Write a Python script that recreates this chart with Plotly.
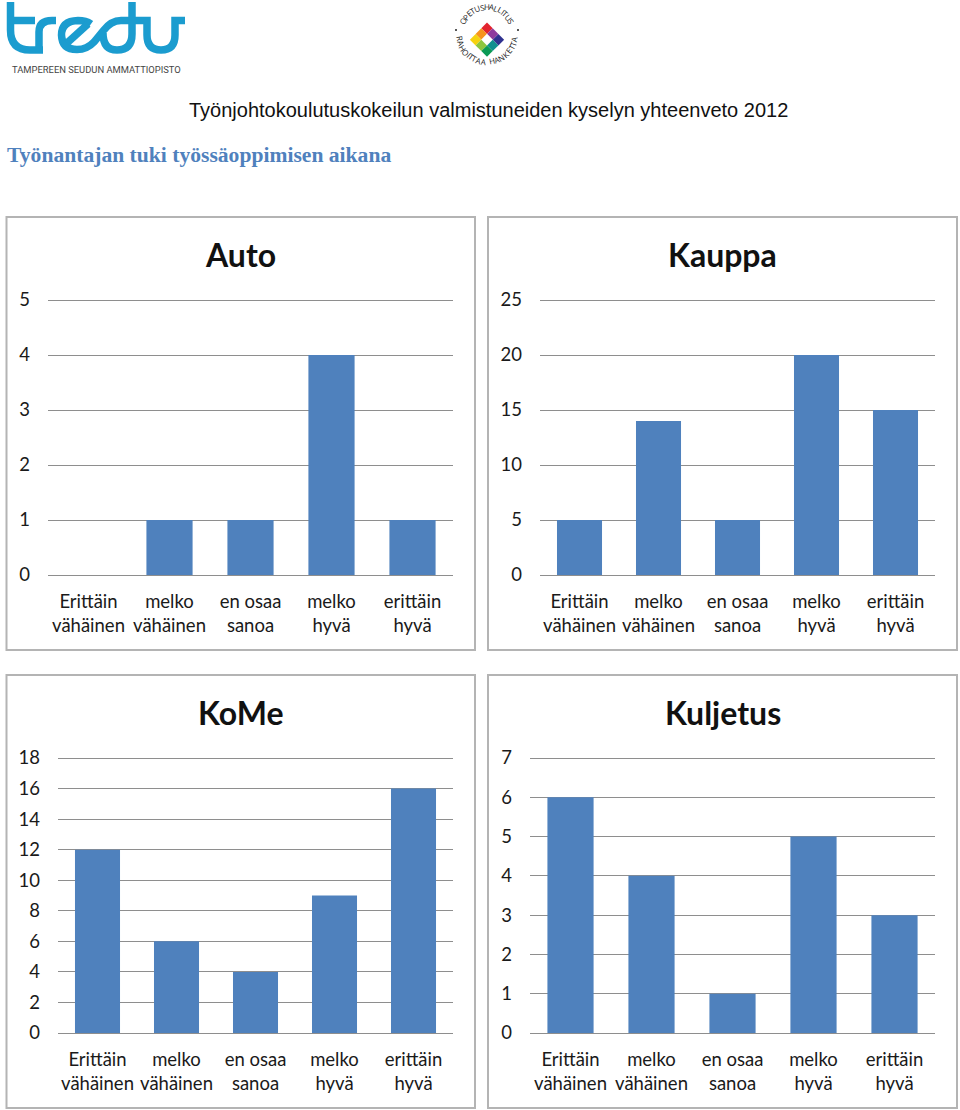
import math
import plotly.graph_objects as go

W, H = 960, 1110
categories = ["Erittäin<br>vähäinen", "melko<br>vähäinen", "en osaa<br>sanoa", "melko<br>hyvä", "erittäin<br>hyvä"]
auto_values = [0, 1, 1, 4, 1]
kauppa_values = [5, 14, 5, 20, 15]
kome_values = [12, 6, 4, 9, 16]
kuljetus_values = [6, 4, 1, 5, 3]
auto_ticks = [0, 1, 2, 3, 4, 5]
kauppa_ticks = [0, 5, 10, 15, 20, 25]
kome_ticks = [0, 2, 4, 6, 8, 10, 12, 14, 16, 18]
kuljetus_ticks = [0, 1, 2, 3, 4, 5, 6, 7]

BAR = "#4f81bd"
GRID = "#8e8e8e"
FRAME = "#b4b4b4"
TEXT = "#1a1a1a"
FONT = "Lato"
LOGO = "#1b9ccf"
HEADROOM = 3  # px of axis above the top tick, so that its gridline is drawn

# name, values, ticks, plot box px (x0, x1, ytop, ybottom), frame px (x0, x1, y0, y1)
panels = [
    ("Auto", auto_values, auto_ticks, (48, 453, 300, 575), (6.5, 475, 217, 650)),
    ("Kauppa", kauppa_values, kauppa_ticks, (540, 935, 300, 575), (488, 957, 217, 650)),
    ("KoMe", kome_values, kome_ticks, (58, 453, 758, 1033), (6.5, 475, 675, 1108)),
    ("Kuljetus", kuljetus_values, kuljetus_ticks, (530, 935, 758, 1033), (488, 957, 675, 1108)),
]

fig = go.Figure()
layout = dict(
    width=W, height=H, autosize=False, showlegend=False,
    margin=dict(l=0, r=0, t=0, b=0, pad=0),
    paper_bgcolor="white", plot_bgcolor="rgba(0,0,0,0)",
    font=dict(family=FONT, size=18.5, color=TEXT),
    bargap=0.43,
)
shapes, annots = [], []

for i, (name, vals, ticks, (x0, x1, yt, yb), (fx0, fx1, fy0, fy1)) in enumerate(panels, start=1):
    xa, ya = f"x{i}", f"y{i}"
    fig.add_trace(go.Bar(x=categories, y=vals, xaxis=xa, yaxis=ya, marker=dict(color=BAR, line=dict(width=0)), hoverinfo="skip"))
    layout[f"xaxis{i}"] = dict(
        domain=[x0 / W, x1 / W], anchor=ya, type="category", showgrid=False, automargin=False,
        showline=True, linecolor=GRID, linewidth=1, ticks="", ticklabelstandoff=10,
        tickfont=dict(family=FONT, size=18.5, color=TEXT), tickangle=0, fixedrange=True,
    )
    top = ticks[-1] * (1 + HEADROOM / (yb - yt))
    layout[f"yaxis{i}"] = dict(
        domain=[1 - yb / H, 1 - (yt - HEADROOM) / H], anchor=xa, range=[ticks[0], top], automargin=False,
        tickmode="array", tickvals=ticks, ticktext=[str(t) for t in ticks],
        showgrid=True, gridcolor=GRID, gridwidth=1, zeroline=False, showline=False,
        ticks="", ticklabelstandoff=17, tickfont=dict(family=FONT, size=18.5, color=TEXT), fixedrange=True,
    )
    shapes.append(dict(type="rect", xref="x5", yref="y5", x0=fx0, x1=fx1, y0=fy0, y1=fy1,
                       line=dict(color=FRAME, width=2), fillcolor="rgba(0,0,0,0)", layer="above"))
    annots.append(dict(text=f"<b>{name}</b>", x=(fx0 + fx1) / 2, y=fy0 + 37, showarrow=False,
                       xref="x5", yref="y5", xanchor="center", yanchor="middle",
                       font=dict(family=FONT, size=32, color="#111111")))

# Full-page overlay axis measured in pixels, for the page header and logos
fig.add_trace(go.Scatter(x=[None], y=[None], xaxis="x5", yaxis="y5", hoverinfo="skip"))
layout["xaxis5"] = dict(domain=[0, 1], range=[0, W], visible=False, anchor="y5", fixedrange=True, automargin=False)
layout["yaxis5"] = dict(domain=[0, 1], range=[H, 0], visible=False, anchor="x5", fixedrange=True, automargin=False)


def note(text, x, y, size, color, family=FONT, xanchor="center", angle=0):
    annots.append(dict(text=text, x=x, y=y, xref="x5", yref="y5", showarrow=False, xanchor=xanchor,
                       yanchor="middle", textangle=angle, font=dict(family=family, size=size, color=color)))


note("Työnjohtokoulutuskokeilun valmistuneiden kyselyn yhteenveto 2012", 187, 109.5, 20, "#111111", "Liberation Sans", "left")
note("<b>Työnantajan tuki työssäoppimisen aikana</b>", 4.5, 155, 21.6, "#4f81bd", "Liberation Serif", "left")
note("TAMPEREEN SEUDUN AMMATTIOPISTO", 96, 69, 9.4, "#444444", "Roboto")

# tredu logo strokes
logo_paths = [
    "M10.5,2 V30 Q10.5,50 30,50 H43",
    "M7,20.5 H35",
    "M39,53 V32 Q39,20.5 52,20.5 H56",
    "M91,24 Q86,20.5 78,20.5 Q61.5,21 61.5,35 Q62,49.5 77,49.5 Q87,49.5 94,42 L103,31 Q111,20.5 121,20.5 H147 V35 Q147,50 161,50 Q175,50 175,35 V20.5 H185",
    "M67,43 L88,24",
    "M103,33 Q103,50 117,50 Q132,50 132,34 V2",
]
for p in logo_paths:
    shapes.append(dict(type="path", xref="x5", yref="y5", path=p, line=dict(color=LOGO, width=7.5), layer="above"))

# Opetushallitus diamond
cx, cy = 487, 34
cell = 5.7
diamond_colors = [
    ["#e2232e", "#8e3b9e", "#2f318f"],
    ["#f7941d", "#ffffff", "#0f8f8f"],
    ["#f6d20f", "#8dc63f", "#0b9a55"],
]
for r, row in enumerate(diamond_colors):
    for c, col in enumerate(row):
        pts = []
        for a, b in [(0, 0), (1, 0), (1, 1), (0, 1)]:
            u, v = c + a - 0.5, r + b - 0.5
            pts.append((cx + (u - v) * cell, cy + (u + v - 1) * cell))
        path = "M" + " L".join(f"{px:.1f},{py:.1f}" for px, py in pts) + " Z"
        shapes.append(dict(type="path", xref="x5", yref="y5", path=path, fillcolor=col, line=dict(width=0), layer="above"))

ring_top, ring_bottom = "OPETUSHALLITUS", "RAHOITTAA HANKETTA"
RADIUS = 27.5
CHAR_WEIGHT = {"I": 0.45, " ": 0.7, "L": 0.8, "T": 0.85}


def ring_angles(text, half):
    w = [CHAR_WEIGHT.get(ch, 1.0) for ch in text]
    total = sum(w)
    out, run = [], 0.0
    for wi in w:
        out.append(-half + 2 * half * (run + wi / 2) / total)
        run += wi
    return out


for ch, phi in zip(ring_top, ring_angles(ring_top, 68)):
    t = math.radians(phi)
    note(ch, cx + RADIUS * math.sin(t), cy - RADIUS * math.cos(t), 8, "#222222", "Open Sans", angle=phi)
for ch, phi in zip(ring_bottom, ring_angles(ring_bottom, 85)):
    t = math.radians(phi)
    note(ch, cx + RADIUS * math.sin(t), cy + RADIUS * math.cos(t), 8, "#222222", "Open Sans", angle=-phi)
for dx in (-31, 31):
    shapes.append(dict(type="circle", xref="x5", yref="y5", x0=cx + dx - 1, x1=cx + dx + 1, y0=cy - 5, y1=cy - 3,
                       fillcolor="#222222", line=dict(width=0), layer="above"))

layout["shapes"] = shapes
layout["annotations"] = annots
fig.update_layout(**layout)
fig.write_html("out.html", config=dict(displayModeBar=False),
               post_script="document.body.style.margin='0';")
